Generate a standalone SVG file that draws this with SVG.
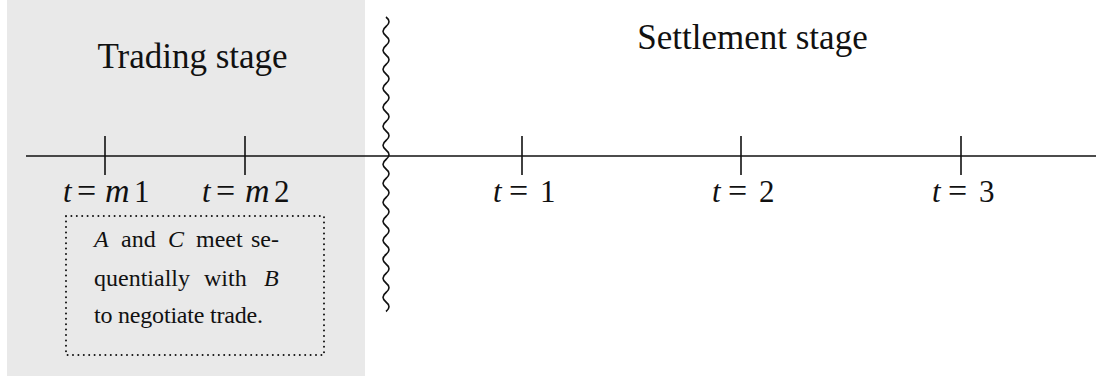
<svg xmlns="http://www.w3.org/2000/svg" width="1096" height="379" viewBox="0 0 1096 379">
<style>
text{font-family:"Liberation Serif","Times New Roman",serif;fill:#111}
.title{font-size:35px;text-anchor:middle}
.lab{font-size:31px}
.eq{font-size:34px}
.mm{font-size:34px}
.box{font-size:24px}
.it{font-style:italic}
.ln{stroke:#111;stroke-width:1.6;fill:none}
</style>
<rect id="trading-bg" x="7" y="0" width="358" height="376" fill="#e9e9e9"/>
<g id="connectors">
<line class="ln" x1="26" y1="156" x2="1096" y2="156"/>
<line class="ln" x1="105" y1="136" x2="105" y2="175"/>
<line class="ln" x1="245" y1="136" x2="245" y2="175"/>
<line class="ln" x1="522" y1="136" x2="522" y2="175"/>
<line class="ln" x1="741" y1="136" x2="741" y2="175"/>
<line class="ln" x1="961" y1="136" x2="961" y2="175"/>
<path class="ln" stroke-width="1.8" d="M386,17 q6,4.75 0,9.5 t0,9.5 t0,9.5 t0,9.5 t0,9.5 t0,9.5 t0,9.5 t0,9.5 t0,9.5 t0,9.5 t0,9.5 t0,9.5 t0,9.5 t0,9.5 t0,9.5 t0,9.5 t0,9.5 t0,9.5 t0,9.5 t0,9.5 t0,9.5 t0,9.5 t0,9.5 t0,9.5 t0,9.5 t0,9.5 t0,9.5 t0,9.5 t0,9.5 t0,9.5 t0,9.5"/>
</g>
<g id="trading-title"><text class="title" x="192.5" y="68">Trading stage</text></g>
<g id="settlement-title"><text class="title" x="752.5" y="49">Settlement stage</text></g>
<g id="label-m1"><text class="lab" y="202"><tspan class="it" x="63">t</tspan><tspan class="eq" x="77">=</tspan><tspan class="it mm" x="105">m</tspan><tspan x="134">1</tspan></text></g>
<g id="label-m2"><text class="lab" y="202"><tspan class="it" x="202">t</tspan><tspan class="eq" x="216">=</tspan><tspan class="it mm" x="245">m</tspan><tspan x="274">2</tspan></text></g>
<g id="label-1"><text class="lab" y="202"><tspan class="it" x="493">t</tspan><tspan class="eq" x="509">=</tspan><tspan x="540">1</tspan></text></g>
<g id="label-2"><text class="lab" y="202"><tspan class="it" x="712">t</tspan><tspan class="eq" x="728">=</tspan><tspan x="759">2</tspan></text></g>
<g id="label-3"><text class="lab" y="202"><tspan class="it" x="932">t</tspan><tspan class="eq" x="948">=</tspan><tspan x="979">3</tspan></text></g>
<g id="note-box">
<rect x="66" y="216" width="258" height="139" fill="none" stroke="#111" stroke-width="2" stroke-dasharray="0 5.4" stroke-linecap="round"/>
<text class="box" y="247"><tspan class="it" x="94">A</tspan><tspan x="121">and</tspan><tspan class="it" x="168">C</tspan><tspan x="196">meet</tspan><tspan x="251">se-</tspan></text>
<text class="box" y="286"><tspan x="94">quentially</tspan><tspan x="204">with</tspan><tspan class="it" x="264">B</tspan></text>
<text class="box" x="94" y="323" textLength="169" lengthAdjust="spacing">to negotiate trade.</text>
</g>
</svg>
